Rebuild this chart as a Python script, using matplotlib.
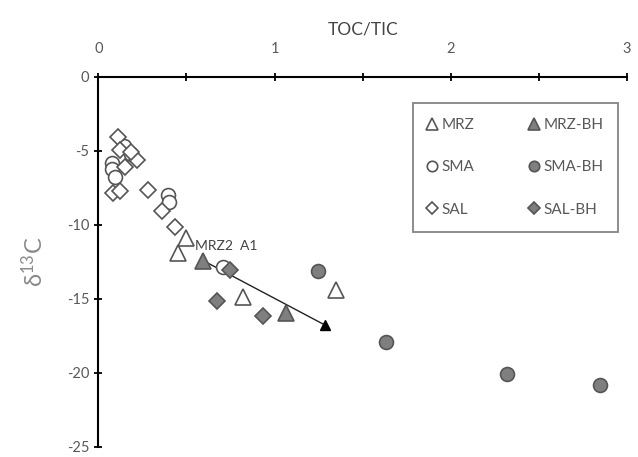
import numpy as np
import matplotlib.pyplot as plt
from matplotlib.ticker import MultipleLocator

plt.rcParams["font.family"] = ["Lato", "DejaVu Sans"]
plt.rcParams["axes.unicode_minus"] = False

# TOC/TIC (x) and d13C (y) per group
mrz_x = [0.499, 0.454, 0.822, 1.35]
mrz_y = [-10.87, -11.88, -14.9, -14.43]
sma_x = [0.079, 0.079, 0.096, 0.147, 0.187, 0.397, 0.403, 0.709]
sma_y = [-5.84, -6.24, -6.78, -4.70, -5.23, -7.99, -8.46, -12.82]
sal_x = [0.113, 0.125, 0.153, 0.221, 0.187, 0.085, 0.125, 0.284, 0.363, 0.437]
sal_y = [-4.09, -4.97, -6.11, -5.64, -5.10, -7.85, -7.72, -7.65, -9.06, -10.13]
mrzbh_x = [0.596, 1.066]
mrzbh_y = [-12.42, -15.97]
smabh_x = [1.248, 1.634, 2.32, 2.847]
smabh_y = [-13.09, -17.92, -20.07, -20.81]
salbh_x = [0.749, 0.675, 0.936]
salbh_y = [-13.02, -15.17, -16.17]
trend_x = [0.596, 1.288]
trend_y = [-12.42, -16.78]

txt = "#595959"
edge = "#555555"
fill = "#7f7f7f"

fig = plt.figure(figsize=(6.38, 4.57), dpi=100)
ax = fig.add_axes([0.154, 0.022, 0.829, 0.81])

ax.plot(trend_x, trend_y, color="#222222", lw=1.0, zorder=2)
ax.plot(trend_x[1], trend_y[1], marker="^", color="black", ms=7, zorder=3)

ax.plot(mrz_x, mrz_y, ls="none", marker="^", ms=11, mfc="white", mec=edge, mew=1.2, label="MRZ")
ax.plot(sma_x, sma_y, ls="none", marker="o", ms=10, mfc="white", mec=edge, mew=1.2, label="SMA")
ax.plot(sal_x, sal_y, ls="none", marker="D", ms=8.5, mfc="white", mec=edge, mew=1.2, label="SAL")
ax.plot(mrzbh_x, mrzbh_y, ls="none", marker="^", ms=11, mfc=fill, mec=edge, mew=1.2, label="MRZ-BH", zorder=4)
ax.plot(smabh_x, smabh_y, ls="none", marker="o", ms=10, mfc=fill, mec=edge, mew=1.2, label="SMA-BH", zorder=4)
ax.plot(salbh_x, salbh_y, ls="none", marker="D", ms=8.5, mfc=fill, mec=edge, mew=1.2, label="SAL-BH", zorder=4)

ax.text(0.55, -11.4, "MRZ2  A1", fontsize=10, color="#444444", va="center")

ax.set_xlim(0, 3)
ax.set_ylim(-25, 0)
ax.xaxis.set_ticks_position("top")
ax.xaxis.set_label_position("top")
ax.set_xticks([0, 1, 2, 3])
ax.xaxis.set_minor_locator(MultipleLocator(0.5))
ax.set_yticks([0, -5, -10, -15, -20, -25])
ax.spines["right"].set_visible(False)
ax.spines["bottom"].set_visible(False)
ax.spines["left"].set_linewidth(1.5)
ax.spines["top"].set_linewidth(1.5)
ax.tick_params(axis="both", which="both", direction="inout", length=6, width=1.3,
               labelsize=10.5, labelcolor=txt)
ax.tick_params(axis="x", which="major", pad=12)
ax.tick_params(axis="x", which="minor", length=6)
ax.set_xlabel("TOC/TIC", fontsize=12.5, color="#444444", labelpad=5)
ax.set_ylabel(r"$\mathregular{\delta^{13}}$C", fontsize=17, color="#8a8a8a", labelpad=14)

leg = ax.legend(ncol=2, loc="upper right", bbox_to_anchor=(0.998, 0.95), fontsize=11,
                frameon=True, fancybox=False, labelspacing=1.85, columnspacing=3.6,
                handlelength=0.6, handletextpad=0.3, borderpad=1.0, markerscale=0.75)
leg.get_frame().set_edgecolor("#666666")
leg.get_frame().set_linewidth(1.3)
for t in leg.get_texts():
    t.set_color(txt)

fig.savefig("out.png", dpi=100)
